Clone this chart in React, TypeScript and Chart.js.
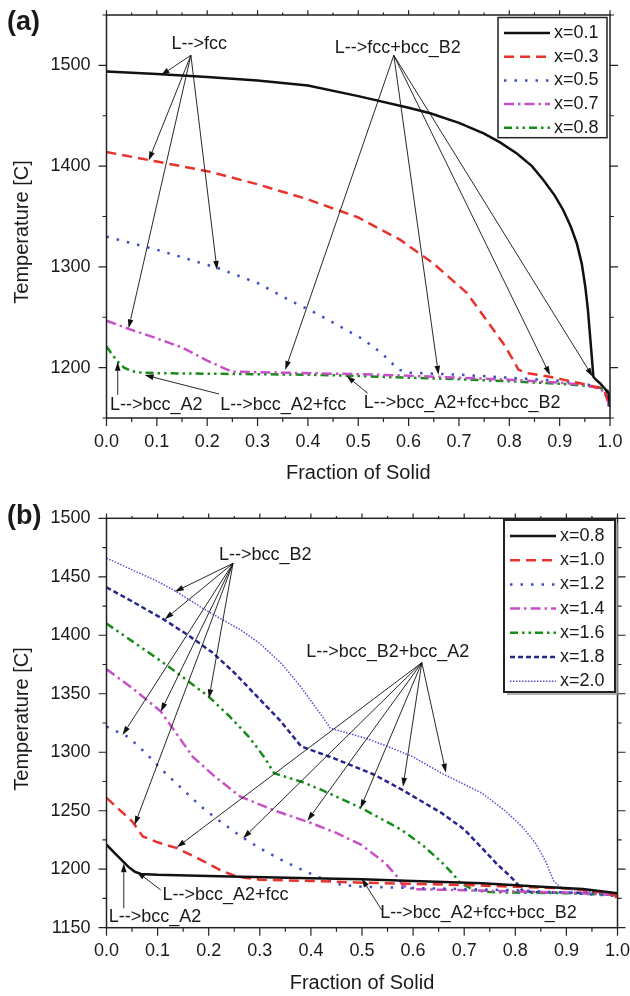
import React, { useEffect, useRef } from 'react';
import { Chart, registerables } from 'chart.js';
Chart.register(...registerables);

const FONT = '"Liberation Sans", Arial, Helvetica, sans-serif';

// ---------- Panel (a) data: Fraction of solid vs Temperature ----------
const labelsA = ['x=0.1', 'x=0.3', 'x=0.5', 'x=0.7', 'x=0.8'];
const fracA01 = [0, 0.1, 0.2, 0.3, 0.4, 0.5, 0.6, 0.643, 0.7, 0.749, 0.78, 0.815, 0.845, 0.868, 0.89, 0.907, 0.922, 0.934, 0.944, 0.951, 0.956, 0.96, 0.964, 0.967, 0.972, 0.98, 0.99, 0.997, 1.0];
const tempA01 = [1494, 1491.5, 1488.5, 1485, 1480, 1469.5, 1458, 1452.5, 1443, 1432.5, 1424, 1412.5, 1400, 1386, 1371, 1356.5, 1340, 1323.5, 1303, 1280, 1258, 1234, 1210, 1191, 1188, 1184.5, 1179, 1174.5, 1161];
const fracA03 = [0, 0.1, 0.2, 0.3, 0.4, 0.5, 0.583, 0.649, 0.716, 0.755, 0.788, 0.808, 0.818, 0.835, 0.88, 0.94, 0.98, 0.99, 1.0];
const tempA03 = [1414, 1404.5, 1395, 1382, 1367, 1349, 1327, 1303.5, 1274, 1247, 1224, 1207.5, 1198, 1194.5, 1191, 1184.5, 1180, 1176, 1162];
const fracA05 = [0, 0.1, 0.22, 0.3, 0.363, 0.42, 0.467, 0.51, 0.547, 0.58, 0.6, 0.7, 0.8, 0.9, 0.95, 0.98, 0.99, 1.0];
const tempA05 = [1330, 1317, 1299, 1284, 1267, 1253, 1240, 1228, 1214, 1198, 1195, 1193, 1190, 1187, 1184, 1180, 1175, 1158];
const fracA07 = [0, 0.044, 0.1, 0.15, 0.2, 0.235, 0.25, 0.3, 0.4, 0.5, 0.6, 0.7, 0.8, 0.9, 0.95, 0.98, 0.99, 1.0];
const tempA07 = [1246.5, 1238.5, 1229, 1220, 1207, 1199, 1196, 1195.5, 1194.5, 1193.5, 1192, 1190, 1188, 1185, 1183, 1179, 1175, 1160];
const fracA08 = [0, 0.01, 0.022, 0.035, 0.05, 0.07, 0.1, 0.2, 0.3, 0.4, 0.48, 0.6, 0.7, 0.8, 0.9, 0.95, 0.98, 1.0];
const tempA08 = [1221, 1214, 1206, 1200, 1196.5, 1195, 1194.5, 1194, 1193.5, 1193, 1192, 1190, 1188.5, 1186.5, 1184, 1182, 1180, 1176];

// ---------- Panel (b) data ----------
const labelsB = ['x=0.8', 'x=1.0', 'x=1.2', 'x=1.4', 'x=1.6', 'x=1.8', 'x=2.0'];
const fracB08 = [0, 0.02, 0.043, 0.055, 0.067, 0.1, 0.2, 0.264, 0.4, 0.5, 0.6, 0.735, 0.85, 0.932, 1.0];
const tempB08 = [1221, 1212, 1202, 1198, 1196, 1195.2, 1194.3, 1193.6, 1192.3, 1191.4, 1190, 1188, 1185, 1183, 1179.5];
const fracB10 = [0, 0.025, 0.051, 0.071, 0.1, 0.138, 0.18, 0.224, 0.256, 0.3, 0.4, 0.5, 0.6, 0.7, 0.8, 0.9, 0.98, 0.995, 1.0];
const tempB10 = [1261, 1251, 1240.5, 1228, 1223, 1218, 1209, 1199, 1193.5, 1191, 1190, 1188.5, 1187.5, 1186.5, 1185, 1183.5, 1180, 1178, 1173];
const fracB12 = [0, 0.043, 0.075, 0.106, 0.145, 0.185, 0.225, 0.265, 0.3, 0.342, 0.38, 0.413, 0.46, 0.5, 0.6, 0.7, 0.8, 0.9, 1.0];
const tempB12 = [1322, 1313, 1300, 1286, 1270, 1253.5, 1240, 1227.5, 1218, 1208, 1200, 1193.5, 1186.5, 1185, 1184, 1183, 1182, 1180, 1177];
const fracB14 = [0, 0.05, 0.106, 0.14, 0.169, 0.21, 0.262, 0.33, 0.397, 0.45, 0.5, 0.546, 0.57, 0.58, 0.6, 0.7, 0.8, 0.9, 1.0];
const tempB14 = [1371, 1355, 1335, 1314, 1296, 1280, 1262, 1250, 1240, 1231, 1220.5, 1205, 1193, 1186, 1183, 1182, 1181, 1180, 1178];
const fracB16 = [0, 0.05, 0.1, 0.15, 0.2, 0.24, 0.279, 0.31, 0.328, 0.38, 0.42, 0.5, 0.578, 0.62, 0.656, 0.68, 0.69, 0.72, 0.75, 0.8, 0.9, 1.0];
const tempB16 = [1410, 1395, 1380, 1364, 1347.5, 1331, 1313, 1295, 1282, 1275, 1268, 1252, 1233.5, 1220, 1206, 1195, 1189, 1182, 1180.5, 1180, 1179.5, 1178];
const fracB18 = [0, 0.05, 0.114, 0.16, 0.208, 0.25, 0.295, 0.34, 0.381, 0.444, 0.523, 0.578, 0.656, 0.7, 0.735, 0.765, 0.79, 0.806, 0.815, 0.85, 0.9, 0.95, 1.0];
const tempB18 = [1441, 1429, 1413, 1400, 1385, 1368, 1347.5, 1327, 1305, 1295, 1281, 1268, 1248, 1234, 1218, 1204, 1194, 1186.5, 1181, 1180, 1180, 1179.5, 1178];
const fracB20 = [0, 0.05, 0.1, 0.138, 0.185, 0.22, 0.263, 0.3, 0.342, 0.38, 0.42, 0.438, 0.507, 0.55, 0.6, 0.656, 0.735, 0.78, 0.814, 0.84, 0.86, 0.875, 0.89, 0.92, 0.96, 1.0];
const tempB20 = [1466, 1456, 1446, 1437, 1424, 1415, 1404.5, 1393, 1376, 1356, 1332, 1320.5, 1312, 1305, 1296, 1282, 1265, 1250, 1236, 1222, 1206, 1190, 1184, 1182, 1180, 1177];

// ---------- Axis ticks ----------
const xTickStep = 0.05; // minor step, labels every 0.1
const yRangeA = [1150, 1550];
const yRangeB = [1150, 1500];

// ---------- Annotations (data coordinates) ----------
const annotationsA = [
  { text: 'L-->fcc', at: [0.184, 1521], from: [0.1676, 1510], to: [[0.1077, 1490], [0.0838, 1405.6], [0.2195, 1297], [0.0439, 1239]] },
  { text: 'L-->fcc+bcc_B2', at: [0.5786, 1517], from: [0.5706, 1510], to: [[0.355, 1197.7], [0.6594, 1193], [0.881, 1192.5], [0.9657, 1191]] },
  { text: 'L-->bcc_A2', at: [0.099, 1163], from: [0.0223, 1173], to: [[0.0223, 1205.9]] },
  { text: 'L-->bcc_A2+fcc', at: [0.351, 1163], from: [0.2235, 1173.8], to: [[0.0758, 1192.7]] },
  { text: 'L-->bcc_A2+fcc+bcc_B2', at: [0.7063, 1164.6], from: [0.5188, 1174.5], to: [[0.4765, 1192]] },
];
const annotationsB = [
  { text: 'L-->bcc_B2', at: [0.3105, 1468.6], from: [0.2476, 1461.5], to: [[0.1336, 1437.2], [0.114, 1413.6], [0.2005, 1346], [0.1061, 1334.7], [0.0314, 1314.7], [0.055, 1237.8]] },
  { text: 'L-->bcc_B2+bcc_A2', at: [0.5503, 1386], from: [0.6171, 1376.6], to: [[0.1376, 1218.7], [0.2673, 1226.4], [0.3931, 1241.5], [0.4969, 1252], [0.5802, 1270.5], [0.6643, 1282.5]] },
  { text: 'L-->bcc_A2', at: [0.0951, 1159.4], from: [0.0338, 1166.6], to: [[0.0338, 1205]] },
  { text: 'L-->bcc_A2+fcc', at: [0.2327, 1178], from: [0.1061, 1182.3], to: [[0.059, 1198]] },
  { text: 'L-->bcc_A2+fcc+bcc_B2', at: [0.728, 1162.3], from: [0.5385, 1165.1], to: [[0.4992, 1192.2]] },
];

// ---------- Styles ----------
const RED = '#e8322c';
const BLUE = '#3c50c4';
const MAGENTA = '#c750c7';
const GREEN = '#188c18';
const NAVY = '#26268a';
const PURPLE = '#6a45d6';

const styleA = [
  { color: '#111', dash: [], width: 2.5 },
  { color: RED, dash: [10, 6], width: 2.5 },
  { color: BLUE, dash: [2.5, 8], width: 2.5 },
  { color: MAGENTA, dash: [10, 4, 2.5, 4], width: 2.5 },
  { color: GREEN, dash: [8, 4, 2.5, 4, 2.5, 4], width: 2.5 },
];
const styleB = [
  { color: '#111', dash: [], width: 2.5 },
  { color: RED, dash: [10, 6], width: 2.5 },
  { color: BLUE, dash: [2.5, 8], width: 2.5 },
  { color: MAGENTA, dash: [10, 4, 2.5, 4], width: 2.5 },
  { color: GREEN, dash: [8, 4, 2.5, 4, 2.5, 4], width: 2.5 },
  { color: NAVY, dash: [5, 3], width: 2.5 },
  { color: PURPLE, dash: [1.5, 1.5], width: 1.5 },
];

function pairs(xs: number[], ys: number[]) {
  return xs.map((x, i) => ({ x, y: ys[i] }));
}

function arrow(ctx: CanvasRenderingContext2D, x1: number, y1: number, x2: number, y2: number) {
  const ang = Math.atan2(y2 - y1, x2 - x1);
  const L = 9, W = 2.8;
  const bx = x2 - L * Math.cos(ang), by = y2 - L * Math.sin(ang);
  ctx.beginPath();
  ctx.moveTo(x1, y1);
  ctx.lineTo(bx, by);
  ctx.stroke();
  ctx.beginPath();
  ctx.moveTo(x2, y2);
  ctx.lineTo(bx + W * Math.sin(ang), by - W * Math.cos(ang));
  ctx.lineTo(bx - W * Math.sin(ang), by + W * Math.cos(ang));
  ctx.closePath();
  ctx.fill();
}

type Layout = {
  panel: string; panelPos: [number, number];
  xTitleY: number; yTitlePos: [number, number];
  legendBox: [number, number, number, number]; legendRow0: number; legendRowStep: number;
  sampleX: [number, number]; legendTextX: number; shadow: boolean; boxWidth: number;
  annotations: typeof annotationsA;
};

function decorPlugin(cfg: Layout) {
  return {
    id: 'decor',
    afterDatasetsDraw(chart: any) {
      const ctx: CanvasRenderingContext2D = chart.ctx;
      const { left, right, top, bottom } = chart.chartArea;
      const xs = chart.scales.x, ys = chart.scales.y;
      ctx.save();
      // annotations
      ctx.strokeStyle = '#111';
      ctx.fillStyle = '#111';
      ctx.lineWidth = 0.9;
      ctx.setLineDash([]);
      for (const a of cfg.annotations) {
        const fx = xs.getPixelForValue(a.from[0]);
        const fy = ys.getPixelForValue(a.from[1]);
        for (const t of a.to) arrow(ctx, fx, fy, xs.getPixelForValue(t[0]), ys.getPixelForValue(t[1]));
      }
      ctx.font = `18px ${FONT}`;
      ctx.textAlign = 'center';
      ctx.textBaseline = 'middle';
      ctx.fillStyle = '#1a1a1a';
      for (const a of cfg.annotations) {
        ctx.fillText(a.text, xs.getPixelForValue(a.at[0]), ys.getPixelForValue(a.at[1]));
      }
      // frame
      ctx.strokeStyle = '#222';
      ctx.lineWidth = 1.5;
      ctx.strokeRect(left, top, right - left, bottom - top);
      // ticks
      ctx.lineWidth = 1.2;
      ctx.beginPath();
      for (const t of xs.ticks) {
        const p = xs.getPixelForValue(t.value);
        const len = t.label !== '' ? 8 : 4;
        ctx.moveTo(p, bottom); ctx.lineTo(p, bottom + len);
        ctx.moveTo(p, top); ctx.lineTo(p, top - len * 0.6);
      }
      for (const t of ys.ticks) {
        const p = ys.getPixelForValue(t.value);
        const len = t.label !== '' ? 8 : 4;
        ctx.moveTo(left, p); ctx.lineTo(left - len, p);
        ctx.moveTo(right, p); ctx.lineTo(right + len, p);
      }
      ctx.stroke();
      // legend
      const [bx0, by0, bx1, by1] = cfg.legendBox;
      ctx.fillStyle = '#fff';
      ctx.fillRect(bx0, by0, bx1 - bx0, by1 - by0);
      if (cfg.shadow) {
        ctx.strokeStyle = '#999';
        ctx.lineWidth = 1.5;
        ctx.beginPath();
        ctx.moveTo(bx0 + 3, by1 + 2); ctx.lineTo(bx1 + 2, by1 + 2); ctx.lineTo(bx1 + 2, by0 + 3);
        ctx.stroke();
      }
      ctx.strokeStyle = '#222';
      ctx.lineWidth = cfg.boxWidth;
      ctx.strokeRect(bx0, by0, bx1 - bx0, by1 - by0);
      chart.data.datasets.forEach((ds: any, i: number) => {
        const y = cfg.legendRow0 + i * cfg.legendRowStep;
        ctx.strokeStyle = ds.borderColor;
        ctx.lineWidth = ds.borderWidth;
        ctx.setLineDash(ds.borderDash || []);
        ctx.beginPath();
        ctx.moveTo(cfg.sampleX[0], y);
        ctx.lineTo(cfg.sampleX[1], y);
        ctx.stroke();
        ctx.setLineDash([]);
        ctx.fillStyle = '#1a1a1a';
        ctx.font = `18px ${FONT}`;
        ctx.textAlign = 'left';
        ctx.textBaseline = 'middle';
        ctx.fillText(ds.label, cfg.legendTextX, y);
      });
      // axis titles
      ctx.fillStyle = '#1a1a1a';
      ctx.font = `20px ${FONT}`;
      ctx.textAlign = 'center';
      ctx.textBaseline = 'middle';
      ctx.fillText('Fraction of Solid', (left + right) / 2, cfg.xTitleY);
      ctx.save();
      ctx.translate(cfg.yTitlePos[0], cfg.yTitlePos[1]);
      ctx.rotate(-Math.PI / 2);
      ctx.fillText('Temperature [C]', 0, 0);
      ctx.restore();
      // panel label
      ctx.font = `bold 27px ${FONT}`;
      ctx.textAlign = 'left';
      ctx.fillText(cfg.panel, cfg.panelPos[0], cfg.panelPos[1]);
      ctx.restore();
    },
  };
}

function buildChart(
  canvas: HTMLCanvasElement,
  series: { x: number[]; y: number[] }[],
  labels: string[],
  styles: { color: string; dash: number[]; width: number }[],
  yRange: number[], yStep: number, yMajor: number,
  pad: { top: number; right: number }, xAxisH: number, yAxisW: number,
  layout: Layout,
) {
  return new Chart(canvas, {
    type: 'line',
    data: {
      datasets: series.map((s, i) => ({
        label: labels[i],
        data: pairs(s.x, s.y),
        borderColor: styles[i].color,
        borderWidth: styles[i].width,
        borderDash: styles[i].dash,
        borderCapStyle: 'butt',
        pointRadius: 0,
        fill: false,
        tension: 0,
      })),
    },
    options: {
      responsive: false,
      animation: false,
      devicePixelRatio: 1,
      layout: { padding: { left: 0, top: pad.top, right: pad.right, bottom: 0 } },
      plugins: { legend: { display: false }, tooltip: { enabled: false } },
      scales: {
        x: {
          type: 'linear', min: 0, max: 1,
          grid: { display: false, drawTicks: false, tickLength: 0 },
          border: { display: false },
          ticks: {
            stepSize: xTickStep, autoSkip: false, maxRotation: 0, minRotation: 0, maxTicksLimit: 100,
            padding: 13, color: '#1a1a1a', font: { family: FONT, size: 18 },
            callback: (v: any) => {
              const r = Math.round(Number(v) * 20);
              return r % 2 === 0 ? (r / 20).toFixed(1) : '';
            },
          },
          afterFit: (s: any) => { s.height = xAxisH; s.paddingLeft = 0; s.paddingRight = 0; },
        },
        y: {
          type: 'linear', min: yRange[0], max: yRange[1],
          grid: { display: false, drawTicks: false, tickLength: 0 },
          border: { display: false },
          ticks: {
            stepSize: yStep, autoSkip: false, maxTicksLimit: 100,
            padding: 16, color: '#1a1a1a', font: { family: FONT, size: 18 },
            callback: (v: any) => {
              const r = Math.round(Number(v));
              return r % yMajor === 0 ? String(r) : '';
            },
          },
          afterFit: (s: any) => { s.width = yAxisW; s.paddingTop = 0; s.paddingBottom = 0; },
        },
      },
    },
    plugins: [decorPlugin(layout)],
  } as any);
}

export default function App() {
  const refA = useRef<HTMLCanvasElement>(null);
  const refB = useRef<HTMLCanvasElement>(null);

  useEffect(() => {
    const chartA = buildChart(
      refA.current!,
      [
        { x: fracA01, y: tempA01 },
        { x: fracA03, y: tempA03 },
        { x: fracA05, y: tempA05 },
        { x: fracA07, y: tempA07 },
        { x: fracA08, y: tempA08 },
      ],
      labelsA, styleA, yRangeA, 50, 100,
      { top: 15, right: 20 }, 72, 106.5,
      {
        panel: '(a)', panelPos: [7, 23], xTitleY: 473, yTitlePos: [22, 232],
        legendBox: [498, 17.5, 607, 137.7], legendRow0: 33, legendRowStep: 23.7,
        sampleX: [504, 550], legendTextX: 554, shadow: false, boxWidth: 1.5,
        annotations: annotationsA,
      },
    );
    const chartB = buildChart(
      refB.current!,
      [
        { x: fracB08, y: tempB08 },
        { x: fracB10, y: tempB10 },
        { x: fracB12, y: tempB12 },
        { x: fracB14, y: tempB14 },
        { x: fracB16, y: tempB16 },
        { x: fracB18, y: tempB18 },
        { x: fracB20, y: tempB20 },
      ],
      labelsB, styleB, yRangeB, 25, 50,
      { top: 28.3, right: 12.5 }, 68.3, 106.5,
      {
        panel: '(b)', panelPos: [7, 27], xTitleY: 493, yTitlePos: [22, 229],
        legendBox: [504, 30, 615, 202], legendRow0: 46, legendRowStep: 24.2,
        sampleX: [510, 556], legendTextX: 560, shadow: true, boxWidth: 2,
        annotations: annotationsB,
      },
    );
    return () => {
      chartA.destroy();
      chartB.destroy();
    };
  }, []);

  return (
    <div style={{ position: 'absolute', left: 0, top: 0, width: 630, height: 996, background: '#fff' }}>
      <canvas ref={refA} width={630} height={490} style={{ position: 'absolute', left: 0, top: 0, display: 'block' }} />
      <canvas ref={refB} width={630} height={506} style={{ position: 'absolute', left: 0, top: 490, display: 'block' }} />
    </div>
  );
}
